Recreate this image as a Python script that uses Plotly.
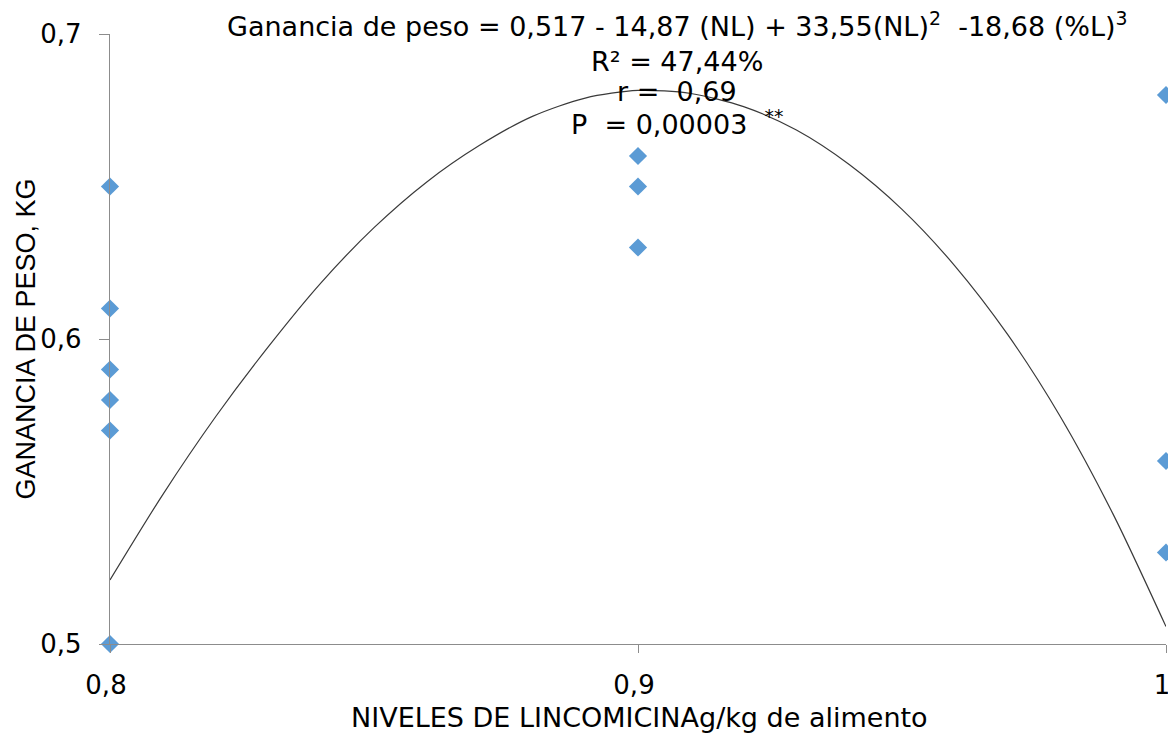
import plotly.graph_objects as go

# Observed weight gain per lincomycin level
nivel = [0.8, 0.8, 0.8, 0.8, 0.8, 0.8,
         0.9, 0.9, 0.9,
         1.0, 1.0, 1.0]
ganancia = [0.65, 0.61, 0.59, 0.58, 0.57, 0.50,
            0.66, 0.65, 0.63,
            0.68, 0.56, 0.53]

# Fitted response curve, sampled every 0.01 along the trend line
curva_x = [0.80, 0.81, 0.82, 0.83, 0.84, 0.85, 0.86, 0.87, 0.88, 0.89, 0.90,
           0.91, 0.92, 0.93, 0.94, 0.95, 0.96, 0.97, 0.98, 0.99, 1.00]
curva_y = [0.5210, 0.5490, 0.5745, 0.5975, 0.6185, 0.6365, 0.6515, 0.6635,
           0.6730, 0.6790, 0.6815, 0.6805, 0.6762, 0.6685, 0.6572, 0.6425,
           0.6240, 0.6015, 0.5745, 0.5425, 0.5057]

x_ticks = [0.8, 0.9, 1.0]
x_ticktext = ["0,8", "0,9", "1"]
y_ticks = [0.5, 0.6, 0.7]
y_ticktext = ["0,5", "0,6", "0,7"]

FONT = "DejaVu Sans, sans-serif"
FONT_Y = "Liberation Sans, Arial, sans-serif"
AXIS_COLOR = "#8c8c8c"
FS = 26
FS_TXT = 27
nb = "\u00a0"

fig = go.Figure()
fig.add_trace(go.Scatter(
    x=curva_x, y=curva_y, mode="lines",
    line=dict(color="#3a3a3a", width=1.2, shape="spline", smoothing=0.8),
    cliponaxis=False, hoverinfo="skip", showlegend=False,
))
fig.add_trace(go.Scatter(
    x=nivel, y=ganancia, mode="markers",
    marker=dict(symbol="diamond", size=14, color="#5b9bd5"),
    cliponaxis=False, showlegend=False,
))

# labels nudged slightly left so the last one stays on the page
fig.update_xaxes(
    range=[0.8, 1.0], tickvals=x_ticks, ticktext=x_ticktext,
    showgrid=False, zeroline=False, showline=True, linecolor=AXIS_COLOR,
    linewidth=1.3, ticks="outside", ticklen=8, tickcolor=AXIS_COLOR,
    tickfont=dict(family=FONT, size=FS, color="#000"), ticklabelstandoff=10,
    ticklabelshift=-4, ticklabeloverflow="allow", automargin=False,
)
fig.update_yaxes(
    range=[0.5, 0.7], tickvals=y_ticks, ticktext=y_ticktext,
    showgrid=False, zeroline=False, showline=True, linecolor=AXIS_COLOR,
    linewidth=1.3, ticks="outside", ticklen=10, tickcolor=AXIS_COLOR,
    tickfont=dict(family=FONT, size=FS, color="#000"), ticklabelstandoff=12,
    ticklabeloverflow="allow", automargin=False,
)

txt = dict(family=FONT, size=FS_TXT, color="#000")
lines = [
    ("Ganancia de peso = 0,517 - 14,87 (NL) + 33,55(NL)<sup>2</sup>" + nb * 2
     + "-18,68 (%L)<sup>3</sup>", 1.016),
    ("R² = 47,44%", 0.955),
    ("r =" + nb * 2 + "0,69", 0.905),
    ("P" + nb * 2 + "= 0,00003" + nb * 2 + "<sup>**</sup>", 0.855),
]
for t, yy in lines:
    fig.add_annotation(text=t, xref="paper", yref="paper", x=0.537, y=yy,
                       xanchor="center", yanchor="middle", showarrow=False,
                       font=txt)

fig.add_annotation(text="NIVELES DE LINCOMICINAg/kg de alimento",
                   xref="paper", yref="paper", x=0.501, y=-0.121,
                   xanchor="center", yanchor="middle", showarrow=False,
                   font=txt)
fig.add_annotation(text="GANANCIA DE PESO, KG", textangle=-90,
                   xref="paper", yref="paper", x=-0.08, y=0.5,
                   xanchor="center", yanchor="middle", showarrow=False,
                   font=dict(family=FONT_Y, size=27, color="#000"))

fig.update_layout(
    width=1168, height=735,
    margin=dict(l=110, r=2, t=34, b=91, autoexpand=False),
    paper_bgcolor="white", plot_bgcolor="white",
    separators=", ",
)

fig.write_html("out.html")
